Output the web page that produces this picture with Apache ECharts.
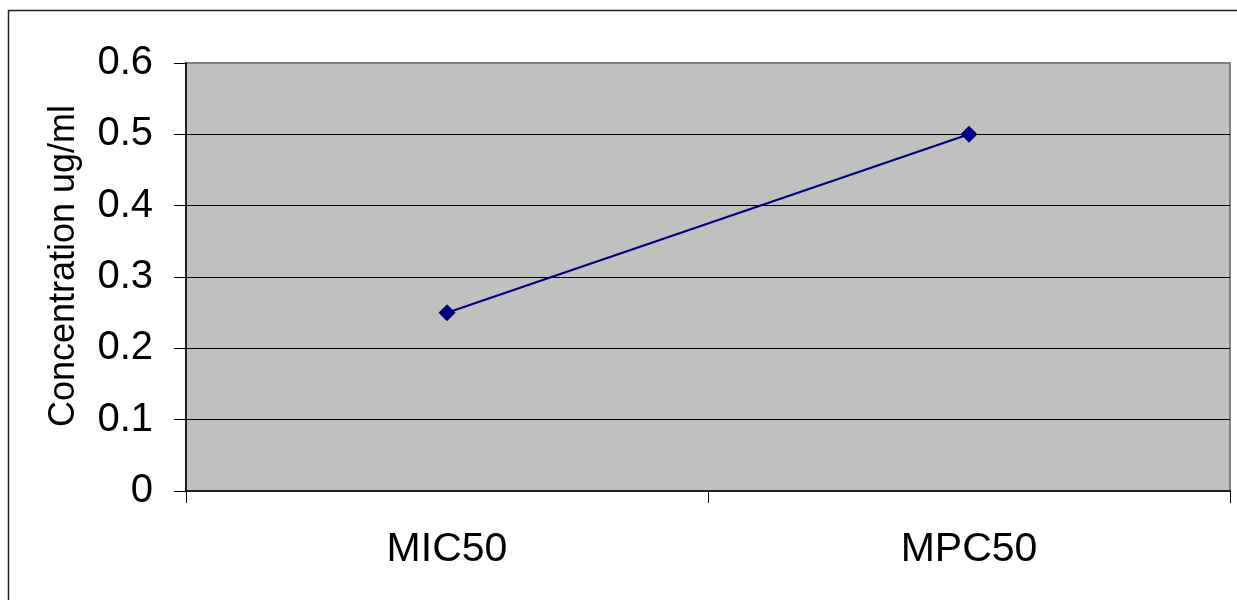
<!DOCTYPE html>
<html>
<head>
<meta charset="utf-8">
<script src="https://cdn.jsdelivr.net/npm/echarts@6/dist/echarts.min.js"></script>
<style>
html,body{margin:0;padding:0;background:#fff;}
#chart{width:1237px;height:600px;}
</style>
</head>
<body>
<div id="chart"></div>
<script>
const categories = ['MIC50', 'MPC50'];
const concentration = [0.25, 0.5];
const yTicks = { min: 0, max: 0.6, interval: 0.1 };
const yName = 'Concentration ug/ml';

const FONT = '"Liberation Sans", Arial, sans-serif';
const chart = echarts.init(document.getElementById('chart'), null, { renderer: 'canvas' });
chart.setOption({
  animation: false,
  backgroundColor: '#ffffff',
  graphic: [{
    type: 'rect',
    shape: { x: 8.5, y: 10.5, width: 1300, height: 700 },
    style: { fill: 'none', stroke: '#222', lineWidth: 1.5 },
    silent: true,
    z: -10
  }],
  grid: {
    left: 186, top: 63, right: 7, bottom: 109,
    show: true,
    backgroundColor: '#c0c0c0',
    borderColor: '#808080',
    borderWidth: 2
  },
  xAxis: {
    type: 'category',
    data: categories,
    boundaryGap: true,
    axisLine: { show: true, lineStyle: { color: '#000', width: 1.5 } },
    axisTick: { show: true, length: 12, inside: false, lineStyle: { color: '#000', width: 1 } },
    axisLabel: { color: '#000', fontSize: 41, fontFamily: FONT, margin: 38 },
    splitLine: { show: false }
  },
  yAxis: {
    type: 'value',
    min: yTicks.min, max: yTicks.max, interval: yTicks.interval,
    name: yName,
    nameLocation: 'middle',
    nameRotate: 90,
    nameGap: 104,
    nameTextStyle: { color: '#000', fontSize: 36, fontFamily: FONT, padding: [0, 0, 0, 22] },
    axisLine: { show: true, lineStyle: { color: '#000', width: 1.5 } },
    axisTick: { show: true, length: 12, inside: false, lineStyle: { color: '#000', width: 1 } },
    axisLabel: { color: '#000', fontSize: 40, fontFamily: FONT, margin: 33,
      formatter: v => String(Math.round(v * 10) / 10) },
    splitLine: { show: true, showMinLine: false, showMaxLine: false, lineStyle: { color: '#000', width: 1 } }
  },
  series: [{
    type: 'line',
    data: concentration,
    symbol: 'diamond',
    symbolSize: 17,
    showSymbol: true,
    lineStyle: { color: '#000080', width: 2.2 },
    itemStyle: { color: '#000080' }
  }]
});
</script>
</body>
</html>
